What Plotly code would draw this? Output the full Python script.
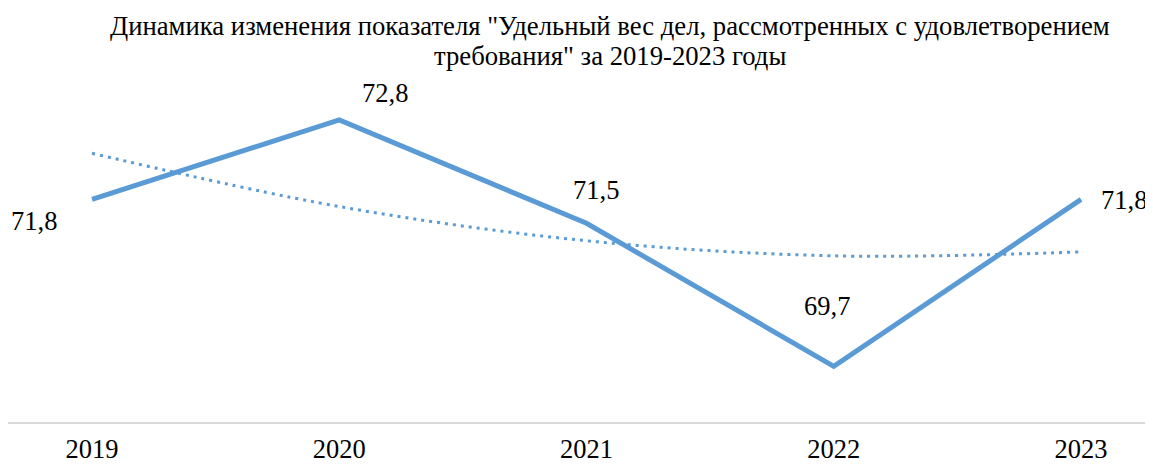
import plotly.graph_objects as go

years = ["2019", "2020", "2021", "2022", "2023"]
values = [71.8, 72.8, 71.5, 69.7, 71.8]
# polynomial (degree 2) trendline
trend = [72.38, 71.71, 71.28, 71.09, 71.14]
title_lines = ['Динамика изменения показателя "Удельный вес дел, рассмотренных с удовлетворением',
               'требования" за 2019-2023 годы']

# label offsets (px) relative to each point
label_shift = [(-58, -22), (46, 27), (9, 33), (-7, 60), (43, -1)]

xs = list(range(len(years)))
FONT = "'Times New Roman', 'Liberation Serif', serif"
BLUE = "#5B9BD5"

fig = go.Figure()
fig.add_trace(go.Scatter(
    x=xs, y=trend, mode="lines",
    line=dict(color=BLUE, width=3, dash="3px,5px", shape="spline", smoothing=1),
    hoverinfo="skip", showlegend=False))
fig.add_trace(go.Scatter(
    x=xs, y=values, mode="lines",
    line=dict(color=BLUE, width=5),
    hoverinfo="skip", showlegend=False))

for i, v in enumerate(values):
    dx, dy = label_shift[i]
    fig.add_annotation(x=xs[i], y=v, text=f"{v:.1f}".replace(".", ","),
                       showarrow=False, xshift=dx, yshift=dy,
                       xanchor="center", yanchor="middle",
                       font=dict(family=FONT, size=26.5, color="#000000"))

# title, two lines
for txt, yy in zip(title_lines, [1.245, 1.150]):
    fig.add_annotation(xref="paper", yref="paper", x=0.5258, y=yy, text=txt,
                       showarrow=False, xanchor="center", yanchor="middle",
                       font=dict(family=FONT, size=26.7, color="#000000"))

# the page body adds an 8px margin, so the figure is 8px smaller
fig.update_layout(
    template="none",
    width=1145, height=456,
    margin=dict(l=0, r=0, t=96, b=42, autoexpand=False),
    paper_bgcolor="white", plot_bgcolor="white",
    xaxis=dict(range=[-0.3397, 4.291], tickvals=xs, ticktext=years,
               showgrid=False, zeroline=False, showline=True, automargin=False,
               linecolor="#D9D9D9", linewidth=2, ticks="",
               ticklabelstandoff=2,
               tickfont=dict(family=FONT, size=26.5, color="#000000")),
    yaxis=dict(range=[69, 73], visible=False, showgrid=False, zeroline=False,
               automargin=False),
)

fig.write_html("out.html")
